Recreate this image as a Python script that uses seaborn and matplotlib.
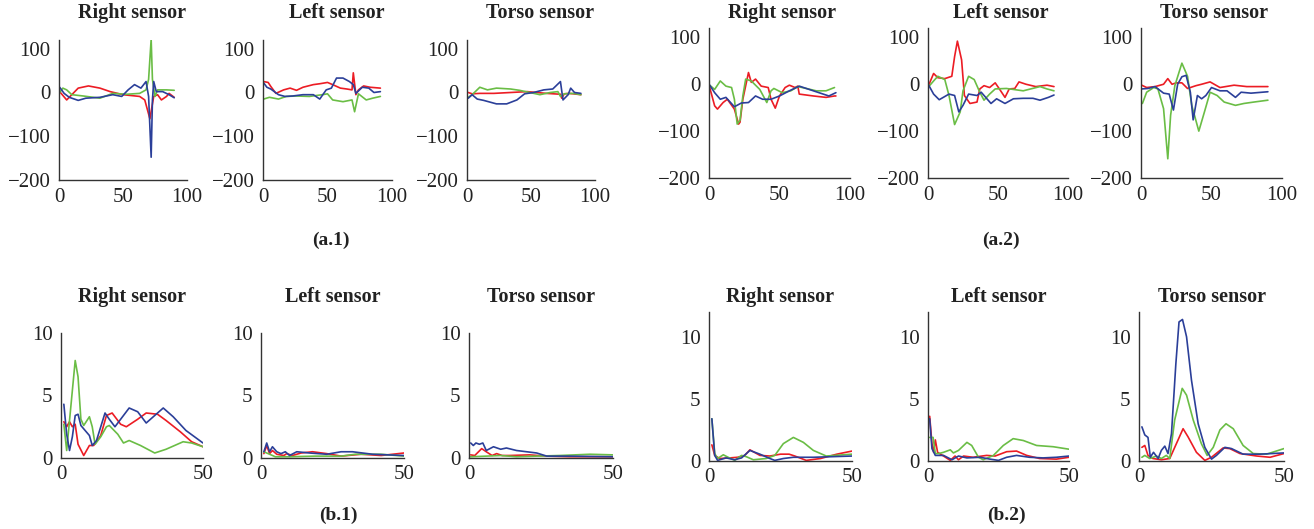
import pandas as pd
import matplotlib.pyplot as plt
import seaborn as sns

# ---- (a.1) time signals, first subject ----
a1_right_red_x = [0.5, 6, 15, 23, 32, 40, 50, 63, 67, 71, 74, 77, 80, 84, 86, 90]
a1_right_red_y = [2, -17, 10, 15, 10, 2, -5, -9, -17, -60, -9, -5, -17, -9, -2, -11]
a1_right_green_x = [0, 3, 6, 10, 19, 32, 42, 53, 63, 68, 70, 72, 73, 75, 77, 84, 90]
a1_right_green_y = [-2, 10, 6, -5, -8, -13, -2, -4, -2, 6, 30, 122, 30, -9, 6, 6, 5]
a1_right_blue_x = [0.5, 4, 8, 15, 21, 32, 42, 49, 54, 59, 64, 68, 70, 72, 73, 74, 76, 81, 86, 90]
a1_right_blue_y = [12, -2, -11, -18, -13, -11, -5, -9, 6, 18, 10, 25, -9, -148, -17, 25, 2, 2, -5, -12]

a1_left_red_x = [0.5, 4, 6, 10, 16, 21, 26, 31, 39, 44, 50, 54, 60, 65, 69, 70, 72, 74, 78, 83, 91]
a1_left_red_y = [25, 23, 14, -2, 6, 10, 5, 12, 18, 20, 23, 18, 10, 8, 6, 45, -5, 6, 15, 12, 10]
a1_left_green_x = [0.5, 5, 12, 18, 26, 36, 46, 50, 54, 62, 69, 71, 74, 80, 85, 91]
a1_left_green_y = [-15, -11, -15, -9, -8, -9, -5, -3, -17, -21, -17, -44, -3, -17, -13, -9]
a1_left_blue_x = [0.5, 3, 6, 12, 17, 23, 31, 39, 44, 49, 53, 57, 62, 67, 70, 72, 77, 82, 86, 91]
a1_left_blue_y = [22, 12, 8, -5, -9, -8, -5, -5, -15, 6, 10, 33, 33, 25, 18, -2, 12, 10, 0, 2]

a1_torso_red_x = [1, 4, 10, 21, 34, 47, 62, 73, 74, 76, 80, 89]
a1_torso_red_y = [0, -3, -2, -2, 0, 2, -2, -4, -13, -3, -2, -5]
a1_torso_green_x = [1, 4, 10, 16, 23, 34, 41, 49, 57, 65, 71, 73, 76, 83, 89]
a1_torso_green_y = [-11, -5, 12, 6, 10, 8, 5, 0, -5, 0, 2, -9, -3, -2, -5]
a1_torso_blue_x = [1, 4, 8, 13, 23, 31, 39, 45, 52, 60, 67, 73, 75, 79, 81, 84, 89]
a1_torso_blue_y = [-13, -5, -15, -18, -26, -26, -17, -3, 0, 6, 8, 25, -17, -5, 10, 0, -2]

# ---- (a.2) time signals, second subject ----
a2_right_red_x = [0.5, 4, 6, 10, 13, 18, 21, 22, 24, 28, 30, 33, 37, 42, 44, 47, 50, 54, 57, 61, 63, 64, 74, 83, 89, 90]
a2_right_red_y = [-7, -46, -53, -39, -32, -53, -85, -81, -32, 25, 4, 11, -4, -7, -32, -51, -25, -7, -2, -7, -4, -21, -25, -28, -25, -25]
a2_right_green_x = [0.5, 4, 8, 12, 16, 18, 20, 22, 24, 26, 30, 36, 41, 44, 46, 52, 58, 63, 69, 76, 83, 89]
a2_right_green_y = [-2, -11, 7, -4, -7, -32, -85, -77, -25, 11, 7, -11, -39, -14, -9, -18, -14, -5, -9, -14, -14, -7]
a2_right_blue_x = [0.5, 4, 8, 12, 18, 23, 28, 33, 38, 44, 50, 57, 64, 71, 78, 85, 90]
a2_right_blue_y = [-2, -18, -32, -28, -48, -40, -39, -25, -32, -32, -25, -14, -4, -11, -18, -25, -18]

a2_left_red_x = [0.5, 4, 7, 12, 17, 19, 21, 24, 26, 30, 35, 37, 40, 44, 48, 51, 55, 58, 62, 65, 70, 77, 85, 90]
a2_left_red_y = [-2, 23, 14, 12, 17, 59, 92, 52, -24, -41, -38, -10, -3, -7, 3, -10, -28, -10, -9, 5, 0, -5, -2, -5]
a2_left_green_x = [0.5, 4, 7, 12, 15, 19, 23, 25, 29, 33, 37, 40, 44, 48, 56, 68, 80, 85, 90]
a2_left_green_y = [-5, 7, 17, 10, -24, -86, -59, -14, 17, 10, -17, -34, -21, -10, -9, -14, -5, -10, -14]
a2_left_blue_x = [0.5, 4, 8, 15, 19, 22, 25, 29, 35, 38, 45, 49, 55, 61, 68, 75, 80, 86, 90]
a2_left_blue_y = [-2, -21, -33, -21, -24, -59, -45, -21, -24, -17, -41, -31, -41, -31, -30, -30, -34, -28, -23]

a2_torso_red_x = [0.5, 4, 10, 16, 19, 22, 25, 29, 33, 39, 43, 49, 56, 66, 75, 83, 90]
a2_torso_red_y = [-2, -7, -5, 0, 12, 0, 3, 3, -9, -3, 0, 5, -7, -2, -5, -5, -5]
a2_torso_green_x = [1, 4, 9, 12, 16, 19, 21, 24, 29, 33, 36, 41, 45, 49, 54, 59, 67, 73, 80, 90]
a2_torso_green_y = [-41, -17, -7, -10, -52, -159, -66, -3, 45, 17, -45, -100, -59, -17, -24, -38, -45, -41, -38, -34]
a2_torso_blue_x = [0.5, 5, 10, 16, 20, 23, 26, 29, 32, 35, 37, 40, 43, 46, 50, 56, 61, 67, 71, 78, 90]
a2_torso_blue_y = [-10, -9, -5, -19, -21, -55, 0, 16, 19, -17, -76, -24, -31, -24, -7, -14, -14, -28, -17, -19, -16]

# ---- (b.1) spectra, first subject ----
b1_right_red_x = [1, 2, 3, 4, 5, 6, 8, 10, 11.5, 14, 16, 18, 21, 23, 27, 30, 34, 37, 42, 46, 50]
b1_right_red_y = [2.9, 2.5, 2.9, 2.5, 2.7, 1.1, 0.2, 1.0, 1.0, 1.8, 3.4, 3.6, 2.7, 2.5, 3.1, 3.6, 3.5, 3.0, 2.1, 1.3, 0.9]
b1_right_green_x = [1, 2, 3, 5, 6, 7, 8, 10, 11, 12, 14, 16, 17, 20, 22, 24, 28, 33, 37, 43, 46, 50]
b1_right_green_y = [2.7, 0.6, 3.0, 7.8, 6.5, 3.1, 2.6, 3.3, 2.5, 1.1, 1.7, 2.5, 2.6, 1.9, 1.2, 1.4, 1.0, 0.4, 0.7, 1.3, 1.2, 0.9]
b1_right_blue_x = [1, 2, 3, 4, 5, 6, 7, 8.5, 10, 11, 12.5, 14, 15.5, 17, 19, 21, 24, 27, 30, 33, 36, 39.5, 44, 50]
b1_right_blue_y = [4.3, 1.9, 0.6, 1.7, 3.4, 3.5, 2.6, 2.2, 1.8, 1.0, 1.4, 2.5, 3.6, 3.1, 2.5, 3.1, 4.0, 3.7, 2.8, 3.4, 4.0, 3.3, 2.2, 1.2]

b1_left_red_x = [1, 2, 3, 4, 5.5, 8, 9, 11, 14, 18, 23, 28, 35, 42, 50]
b1_left_red_y = [0.35, 1.0, 0.35, 0.6, 0.3, 0.2, 0.35, 0.2, 0.4, 0.5, 0.35, 0.15, 0.3, 0.2, 0.4]
b1_left_green_x = [1, 2.5, 5, 10, 19, 28, 33, 42, 50]
b1_left_green_y = [0.5, 0.35, 0.1, 0.1, 0.15, 0.15, 0.3, 0.3, 0.15]
b1_left_blue_x = [1, 2, 3, 4, 5.5, 7, 8.5, 10, 12.5, 17, 23, 28, 32, 39, 50]
b1_left_blue_y = [0.5, 1.2, 0.5, 0.9, 0.5, 0.35, 0.5, 0.2, 0.5, 0.4, 0.3, 0.5, 0.5, 0.3, 0.2]

b1_torso_red_x = [0.6, 2, 4.4, 6, 8, 9.6, 11.5, 14, 21, 27, 35, 50]
b1_torso_red_y = [0.25, 0.2, 0.75, 0.5, 0.2, 0.35, 0.2, 0.2, 0.25, 0.15, 0.1, 0.1]
b1_torso_green_x = [0.6, 6, 11, 16.5, 23.5, 31.5, 42, 50]
b1_torso_green_y = [0.1, 0.15, 0.2, 0.1, 0.15, 0.2, 0.3, 0.25]
b1_torso_blue_x = [0.6, 1.5, 2.4, 3.6, 4.8, 6, 8.5, 11, 13, 16.5, 20, 23.5, 27, 35, 50]
b1_torso_blue_y = [1.2, 1.0, 1.2, 1.1, 1.2, 0.6, 0.9, 0.7, 0.8, 0.6, 0.5, 0.4, 0.15, 0.15, 0.1]

# ---- (b.2) spectra, second subject ----
b2_right_red_x = [1, 2, 3.7, 7.3, 10, 12.5, 14.3, 17.8, 21.3, 25, 28, 30, 34, 39, 44.7, 50]
b2_right_red_y = [1.3, 0.45, 0.2, 0.25, 0.3, 0.45, 0.9, 0.45, 0.4, 0.55, 0.55, 0.4, 0.05, 0.2, 0.55, 0.8]
b2_right_green_x = [1, 2, 3, 5, 6.7, 9, 11.4, 13, 15.5, 20, 23, 26, 29.5, 33, 36.5, 41, 50]
b2_right_green_y = [3.4, 0.6, 0.2, 0.5, 0.3, 0.05, 0.45, 0.35, 0.1, 0.2, 0.45, 1.4, 1.9, 1.5, 0.85, 0.4, 0.55]
b2_right_blue_x = [1, 2, 3, 6, 9, 11.4, 14.3, 17.8, 21.3, 23, 26, 29.5, 36.5, 50]
b2_right_blue_y = [3.4, 0.45, 0.05, 0.25, 0.1, 0.25, 0.85, 0.55, 0.2, 0.05, 0.2, 0.3, 0.3, 0.4]

b2_left_red_x = [0.6, 1.4, 2, 2.6, 3.4, 5.5, 7.9, 9.6, 10.8, 12.6, 16, 20.8, 23.8, 27.9, 31.4, 35, 39.6, 45.5, 50]
b2_left_red_y = [3.6, 1.4, 0.7, 1.7, 0.7, 0.4, 0.05, 0.4, 0.1, 0.4, 0.3, 0.45, 0.4, 0.75, 0.8, 0.45, 0.2, 0.15, 0.3]
b2_left_green_x = [0.6, 1.8, 2.6, 3.8, 5.5, 6.7, 7.9, 9, 10.8, 13.8, 15.5, 17.9, 19.6, 23.2, 26.7, 30.2, 33.8, 38.5, 44.4, 50]
b2_left_green_y = [1.9, 1.9, 0.6, 0.6, 0.7, 0.8, 0.9, 0.65, 0.85, 1.5, 1.25, 0.3, 0.1, 0.45, 1.25, 1.8, 1.65, 1.25, 1.15, 0.95]
b2_left_blue_x = [0.6, 1.4, 2.6, 5.5, 8.5, 10.8, 13.8, 18.5, 22, 25, 27.9, 31.4, 36, 40.8, 45.5, 50]
b2_left_blue_y = [3.4, 1.0, 0.45, 0.45, 0.1, 0.4, 0.25, 0.3, 0.15, 0.05, 0.3, 0.45, 0.3, 0.25, 0.3, 0.4]

b2_torso_red_x = [1, 2, 3.1, 4.8, 7.7, 10.6, 12.9, 15.2, 16.9, 19.8, 22.7, 25, 29, 31.3, 34.8, 40.6, 45.2, 50]
b2_torso_red_y = [1.1, 1.25, 0.45, 0.2, 0.1, 0.2, 1.4, 2.6, 1.95, 0.7, 0.05, 0.3, 1.05, 1.0, 0.6, 0.4, 0.3, 0.6]
b2_torso_green_x = [1, 2, 3.7, 6, 7.7, 9.4, 10.6, 12.3, 14.9, 16.4, 18.7, 21.5, 23.5, 25.6, 27.9, 30, 32.5, 35.9, 39.4, 44, 50]
b2_torso_green_y = [0.3, 0.45, 0.2, 0.4, 0.2, 0.45, 0.2, 3.3, 5.85, 5.3, 3.3, 1.4, 0.45, 1.1, 2.5, 3.0, 2.6, 1.25, 0.6, 0.55, 1.0]
b2_torso_blue_x = [1, 2, 3.1, 3.9, 5, 6.6, 7.7, 8.9, 10, 11.2, 12.7, 13.8, 15, 16.4, 18.1, 20.4, 22.7, 25, 26.7, 29.6, 31.9, 35.9, 41.7, 50]
b2_torso_blue_y = [2.75, 2.1, 1.9, 0.3, 0.7, 0.2, 0.85, 1.2, 0.6, 2.2, 7.8, 11.2, 11.4, 10.0, 6.5, 3.0, 1.1, 0.15, 0.45, 1.1, 1.0, 0.55, 0.55, 0.65]

titles = ["Right sensor", "Left sensor", "Torso sensor"]
group_labels = ["(a.1)", "(a.2)", "(b.1)", "(b.2)"]
colors = {"red": "#ec1c24", "green": "#6abd45", "blue": "#2b3f99"}

sns.set_style("white")
plt.rcParams["font.family"] = ["Liberation Serif", "DejaVu Serif"]
plt.rcParams["axes.unicode_minus"] = True

W, H = 1314, 529
fig = plt.figure(figsize=(W / 100, H / 100), dpi=100)


def add_panel(left, right, top, bottom):
    return fig.add_axes([left / W, 1 - bottom / H, (right - left) / W, (bottom - top) / H])


def panel_frame(prefix, name):
    g = globals()
    rows = []
    for c in ["red", "green", "blue"]:
        xs = g[f"{prefix}_{name}_{c}_x"]
        ys = g[f"{prefix}_{name}_{c}_y"]
        rows += [{"x": a, "y": b, "c": c} for a, b in zip(xs, ys)]
    return pd.DataFrame(rows)


# (prefix, pixel boxes, top, bottom, xlim, ylim, xticks, yticks, title y, title x offset, x label pad)
groups = [
    ("a1", [(59, 187), (263, 392), (467, 595)], 40, 180, (0, 100), (-200, 120), [0, 50, 100], [-200, -100, 0, 100], 13, 9, 6),
    ("a2", [(709, 850), (928, 1068), (1141, 1282)], 28, 178, (0, 100), (-200, 120), [0, 50, 100], [-200, -100, 0, 100], 13, 3, 6),
    ("b1", [(61, 203), (261, 404), (469, 613)], 333, 458, (0, 50), (0, 10), [0, 50], [0, 5, 10], 297, 0, 5),
    ("b2", [(709, 852), (928, 1069), (1139, 1284)], 312, 461, (0, 50), (0, 12), [0, 50], [0, 5, 10], 297, 0, 5),
]
names = ["right", "left", "torso"]

for prefix, boxes, top, bottom, xlim, ylim, xt, yt, ty, tdx, xpad in groups:
    for (l, r), name, title in zip(boxes, names, titles):
        ax = add_panel(l, r, top, bottom)
        df = panel_frame(prefix, name)
        sns.lineplot(data=df, x="x", y="y", hue="c", palette=colors, sort=False,
                     estimator=None, linewidth=1.2, legend=False, ax=ax)
        ax.set_xlim(*xlim)
        ax.set_ylim(*ylim)
        ax.set_xticks(xt)
        ax.set_yticks(yt)
        ax.set_xlabel("")
        ax.set_ylabel("")
        for s in ["top", "right"]:
            ax.spines[s].set_visible(False)
        for s in ["left", "bottom"]:
            ax.spines[s].set_color("#333333")
            ax.spines[s].set_linewidth(1.0)
        ax.tick_params(axis="both", labelsize=15, length=0, colors="#222222")
        ax.tick_params(axis="x", pad=xpad)
        ax.tick_params(axis="y", pad=6)
        fig.text(((l + r) / 2 + tdx) / W, 1 - ty / H, title, ha="center", va="center",
                 fontsize=14.5, fontweight="bold", color="#222222")

label_pos = [(331, 240), (1001, 240), (338, 515), (1006, 515)]
for lab, (px, py) in zip(group_labels, label_pos):
    fig.text(px / W, 1 - py / H, lab, ha="center", va="center", fontsize=14,
             fontweight="bold", color="#222222")

fig.savefig("out.png", dpi=100)
